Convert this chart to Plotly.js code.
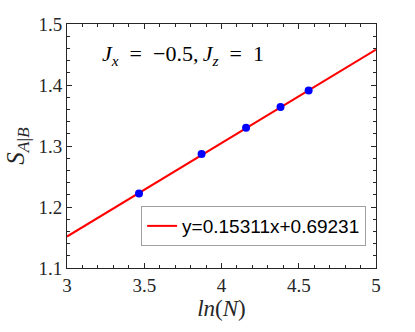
<!DOCTYPE html>
<html>
<head>
<meta charset="utf-8">
<script src="https://cdn.plot.ly/plotly-3.0.1.min.js"></script>
<style>html,body{margin:0;padding:0;background:#fff;}#chart{width:415px;height:332px;}</style>
</head>
<body>
<div id="chart"></div>
<script>
// Data
const lnN = [3.466, 3.871, 4.159, 4.382, 4.564];
const S_AB = [1.222, 1.287, 1.330, 1.364, 1.391];
const fitX = [3, 5];
const fitY = [1.1516, 1.4579];
const fitLabel = "y=0.15311x+0.69231";
const xTicks = [3, 3.5, 4, 4.5, 5];
const yTicks = [1.1, 1.2, 1.3, 1.4, 1.5];

const serif = "Liberation Serif, DejaVu Serif, serif";
const axColor = "#262626";

const traces = [
  {x: fitX, y: fitY, mode: "lines", name: fitLabel,
   line: {color: "#ff0000", width: 2}},
  {x: lnN, y: S_AB, mode: "markers", showlegend: false,
   marker: {color: "#0000ff", size: 8}}
];

const axisCommon = {
  showgrid: false, zeroline: false, showline: true, linecolor: axColor, linewidth: 1,
  mirror: "allticks", ticks: "inside", ticklen: 5, tickcolor: axColor,
  tickfont: {family: serif, size: 19, color: axColor}
};

const layout = {
  width: 415, height: 332,
  margin: {l: 67, r: 39, t: 24, b: 64},
  paper_bgcolor: "#fff", plot_bgcolor: "#fff",
  xaxis: Object.assign({}, axisCommon, {
    range: [3, 5], tickvals: xTicks, ticktext: xTicks.map(String),
    minor: {dtick: 0.1, tick0: 3, ticks: "inside", ticklen: 3, tickcolor: axColor},
    title: {text: "<i>ln</i>(<i>N</i>)", font: {family: serif, size: 23, color: axColor}, standoff: 4}
  }),
  yaxis: Object.assign({}, axisCommon, {
    range: [1.1, 1.5], tickvals: yTicks, ticktext: yTicks.map(v => v.toFixed(1)),
    minor: {dtick: 0.02, tick0: 1.1, ticks: "inside", ticklen: 3, tickcolor: axColor},
    title: {text: "<i>S</i><sub><i>A</i>|<i>B</i></sub>", font: {family: serif, size: 25, color: axColor}, standoff: 6}
  }),
  legend: {
    x: 0.968, y: 0.172, xanchor: "right", yanchor: "middle",
    bgcolor: "#fff", bordercolor: "#a0a0a0", borderwidth: 1,
    font: {family: "Liberation Sans, Arial, sans-serif", size: 19, color: "#000"}
  },
  annotations: [{
    xref: "paper", yref: "paper", x: 0.107, y: 0.873, xanchor: "left", yanchor: "middle",
    showarrow: false,
    text: "<i>J</i><sub><i>x</i></sub>\u2002=\u2002−0.5,\u2009<i>J</i><sub><i>z</i></sub>\u2002=\u20021",
    font: {family: serif, size: 22, color: "#000"}
  }]
};

Plotly.newPlot("chart", traces, layout, {displayModeBar: false, staticPlot: true});
</script>
</body>
</html>
